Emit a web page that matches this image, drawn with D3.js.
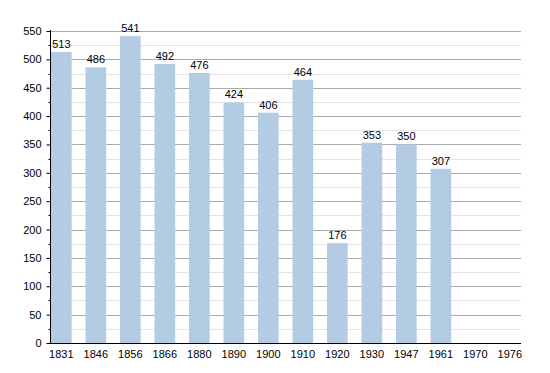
<!DOCTYPE html>
<html><head><meta charset="utf-8">
<script src="https://cdn.jsdelivr.net/npm/d3@7"></script>
<style>body{margin:0;background:#fff}svg{display:block;font-family:"Liberation Sans",Arial,sans-serif}</style>
</head><body>
<svg id="c" width="550" height="373"></svg>
<script>
const years = ["1831","1846","1856","1866","1880","1890","1900","1910","1920","1930","1947","1961","1970","1976"];
const population = [513,486,541,492,476,424,406,464,176,353,350,307,null,null];
const yTicks = [0,50,100,150,200,250,300,350,400,450,500,550];
const yMinor = [25,75,125,175,225,275,325,375,425,475,525];

const svg = d3.select("#c");
const x0 = 50, x1 = 521, step = 34.5;
const x = d3.scaleBand().domain(years).range([51, 51 + step*years.length]).padding(0);
const y = d3.scaleLinear().domain([0,550]).range([343,31]);
const bw = x.bandwidth()*0.6;

// minor gridlines
svg.append("g").selectAll("line").data(yMinor).join("line")
  .attr("x1", x0).attr("x2", x1).attr("y1", d=>Math.round(y(d))+0.5).attr("y2", d=>Math.round(y(d))+0.5)
  .attr("stroke", "#e4e4e4").attr("stroke-width", 1);
// major gridlines
svg.append("g").selectAll("line").data(yTicks.filter(d=>d>0)).join("line")
  .attr("x1", x0).attr("x2", x1).attr("y1", d=>Math.round(y(d))+0.5).attr("y2", d=>Math.round(y(d))+0.5)
  .attr("stroke", "#aaaaaa").attr("stroke-width", 1);

// bars
svg.append("g").selectAll("rect").data(years.map((d,i)=>({y:d,v:population[i]})).filter(d=>d.v!=null)).join("rect")
  .attr("x", d=>x(d.y)).attr("width", bw)
  .attr("y", d=>y(d.v)).attr("height", d=>y(0)-y(d.v))
  .attr("fill", "#b3cce4");

// value labels
svg.append("g").selectAll("text").data(years.map((d,i)=>({y:d,v:population[i]})).filter(d=>d.v!=null)).join("text")
  .attr("x", d=>x(d.y)+bw/2).attr("y", d=>y(d.v)-4)
  .attr("text-anchor","middle").attr("font-size", 11).attr("fill","#000")
  .text(d=>d.v);

// y axis
const ya = svg.append("g").attr("transform", `translate(${x0+0.5},0)`)
  .call(d3.axisLeft(y).tickValues(yTicks).tickSize(4).tickPadding(5).tickFormat(d3.format("d")));
ya.select(".domain").remove();
ya.selectAll("text").attr("font-size", 11).attr("fill","#000").style("font-family","Liberation Sans, Arial, sans-serif");
ya.selectAll("line").attr("stroke","#000");
svg.append("g").attr("transform", `translate(${x0+0.5},0)`).selectAll("line").data(yMinor).join("line")
  .attr("x1",-2).attr("x2",0).attr("y1",d=>Math.round(y(d))+0.5).attr("y2",d=>Math.round(y(d))+0.5).attr("stroke","#000");
svg.append("line").attr("x1",x0+0.5).attr("x2",x0+0.5).attr("y1",y(550)-1).attr("y2",y(0)+1).attr("stroke","#000");

// x axis
svg.append("line").attr("x1",x0).attr("x2",x1).attr("y1",343.5).attr("y2",343.5).attr("stroke","#000");
svg.append("g").selectAll("text").data(years).join("text")
  .attr("x", d=>x(d)+bw/2).attr("y", 358)
  .attr("text-anchor","middle").attr("font-size", 11).attr("fill","#000").text(d=>d);
</script>
</body></html>
